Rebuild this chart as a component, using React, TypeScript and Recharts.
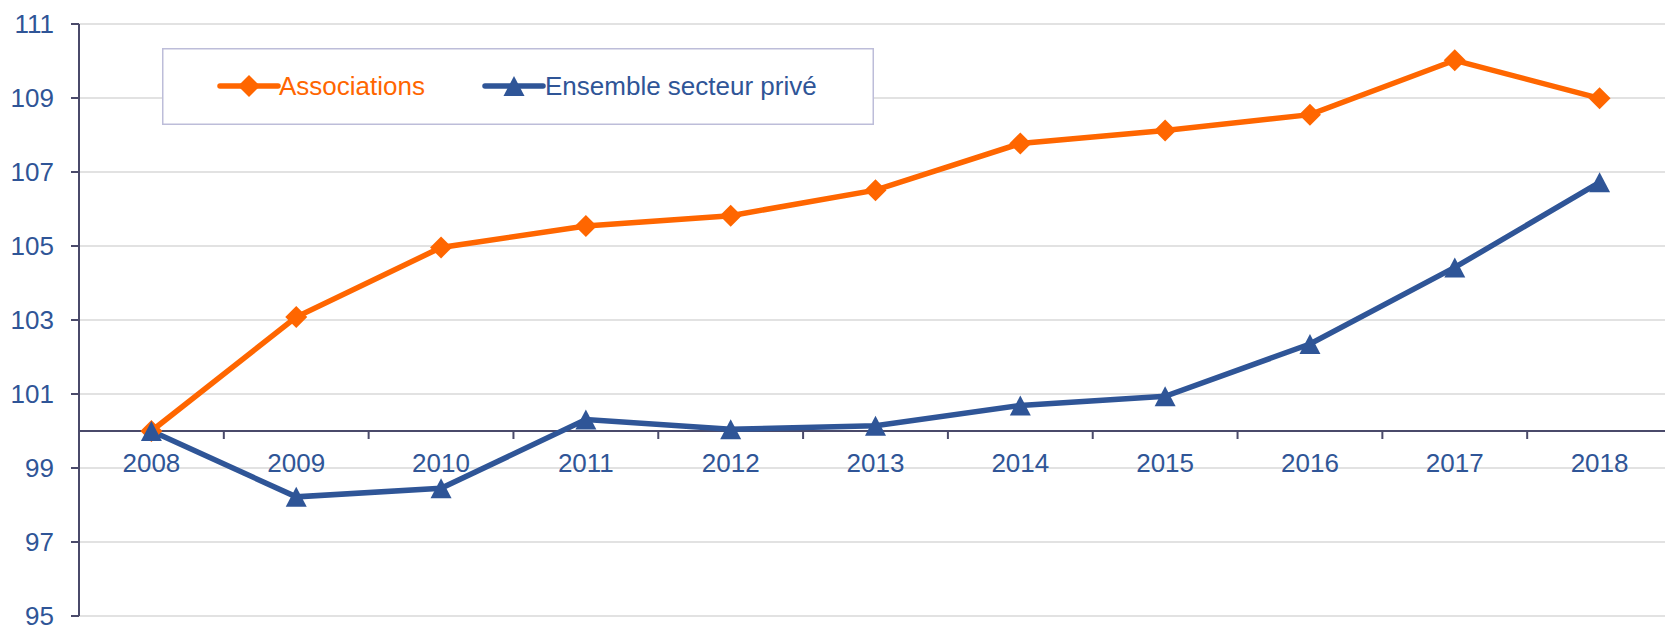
import React from 'react';
import { LineChart, Line, XAxis, YAxis, CartesianGrid, ReferenceLine } from 'recharts';

const years = ['2008', '2009', '2010', '2011', '2012', '2013', '2014', '2015', '2016', '2017', '2018'];
const associations = [100, 103.08, 104.96, 105.54, 105.82, 106.51, 107.77, 108.12, 108.55, 110.02, 108.99];
const ensemble = [100, 98.22, 98.45, 100.31, 100.05, 100.14, 100.69, 100.94, 102.35, 104.42, 106.72];
const yTicks = [95, 97, 99, 101, 103, 105, 107, 109, 111];
const seriesNames = ['Associations', 'Ensemble secteur privé'];

const data = years.map((y, i) => ({ year: y, associations: associations[i], ensemble: ensemble[i] }));

const FONT = '"Liberation Sans", Arial, Helvetica, sans-serif';
const ORANGE = '#FF6600';
const BLUE = '#2F5597';
const AXIS = '#4A4A6A';
const GRID = '#D9D9D9';

const CHART_W = 1680;
const CHART_H = 625;
const MARGIN = { top: 24, right: 8, bottom: 0, left: 0 };
const YAXIS_W = 79;
const XAXIS_H = 9;
const YMIN = 95;
const YMAX = 111;
const PLOT_H = CHART_H - MARGIN.top - MARGIN.bottom - XAXIS_H;
const PLOT_W = CHART_W - MARGIN.left - MARGIN.right - YAXIS_W;
const BAND = PLOT_W / years.length;
const Y100 = MARGIN.top + ((YMAX - 100) / (YMAX - YMIN)) * PLOT_H;

const Diamond = (props: any) => {
  const { cx, cy, index } = props;
  if (cx == null || cy == null) return <g key={`d-${index}`} />;
  const r = 11;
  return (
    <path key={`d-${index}`} d={`M${cx},${cy - r}L${cx + r},${cy}L${cx},${cy + r}L${cx - r},${cy}Z`} fill={ORANGE} />
  );
};

const Triangle = (props: any) => {
  const { cx, cy, index } = props;
  if (cx == null || cy == null) return <g key={`t-${index}`} />;
  const w = 10.5;
  const h = 10;
  return (
    <path key={`t-${index}`} d={`M${cx},${cy - h}L${cx + w},${cy + h}L${cx - w},${cy + h}Z`} fill={BLUE} />
  );
};

const XTick = (props: any) => {
  const { x, payload } = props;
  return (
    <g>
      <line x1={x + BAND / 2} x2={x + BAND / 2} y1={Y100} y2={Y100 + 8} stroke={AXIS} strokeWidth={2} />
      <text x={x} y={Y100 + 41} textAnchor="middle" fill={BLUE} fontSize={26} fontFamily={FONT}>
        {payload.value}
      </text>
    </g>
  );
};

const LegendBox = () => (
  <svg width={712} height={77} style={{ display: 'block', position: 'absolute', left: 162, top: 48 }}>
    <rect x={0.75} y={0.75} width={710.5} height={75.5} fill="#FFFFFF" stroke="#BDBDD9" strokeWidth={1.5} />
    <line x1={58} x2={116} y1={38} y2={38} stroke={ORANGE} strokeWidth={5.5} strokeLinecap="round" />
    <path d="M87,27L98,38L87,49L76,38Z" fill={ORANGE} />
    <text x={117} y={47} fill={ORANGE} fontSize={26} fontFamily={FONT}>{seriesNames[0]}</text>
    <line x1={323} x2={381} y1={38} y2={38} stroke={BLUE} strokeWidth={5.5} strokeLinecap="round" />
    <path d="M352,28L362.5,48L341.5,48Z" fill={BLUE} />
    <text x={383} y={47} fill={BLUE} fontSize={26} fontFamily={FONT}>{seriesNames[1]}</text>
  </svg>
);

export default function App() {
  return (
    <div style={{ position: 'fixed', left: 0, top: 0, width: 1665, height: 625, overflow: 'hidden', background: '#fff', fontFamily: FONT }}>
      <LineChart width={CHART_W} height={CHART_H} data={data} margin={MARGIN}>
        <CartesianGrid horizontal vertical={false} stroke={GRID} strokeWidth={1.5} />
        <XAxis
          dataKey="year"
          height={XAXIS_H}
          axisLine={false}
          tickLine={false}
          interval={0}
          padding={{ left: BAND / 2, right: BAND / 2 }}
          tick={<XTick />}
        />
        <YAxis
          width={YAXIS_W}
          domain={[YMIN, YMAX]}
          ticks={yTicks}
          interval={0}
          allowDataOverflow
          axisLine={{ stroke: AXIS, strokeWidth: 2 }}
          tickLine={{ stroke: AXIS, strokeWidth: 2 }}
          tickSize={8}
          tickMargin={17}
          tick={{ fill: BLUE, fontSize: 26, fontFamily: FONT }}
        />
        <ReferenceLine y={100} stroke={AXIS} strokeWidth={2} />
        <Line
          type="linear"
          dataKey="associations"
          name={seriesNames[0]}
          stroke={ORANGE}
          strokeWidth={5.5}
          dot={Diamond}
          activeDot={false}
          isAnimationActive={false}
        />
        <Line
          type="linear"
          dataKey="ensemble"
          name={seriesNames[1]}
          stroke={BLUE}
          strokeWidth={5.5}
          dot={Triangle}
          activeDot={false}
          isAnimationActive={false}
        />
      </LineChart>
      <LegendBox />
    </div>
  );
}
